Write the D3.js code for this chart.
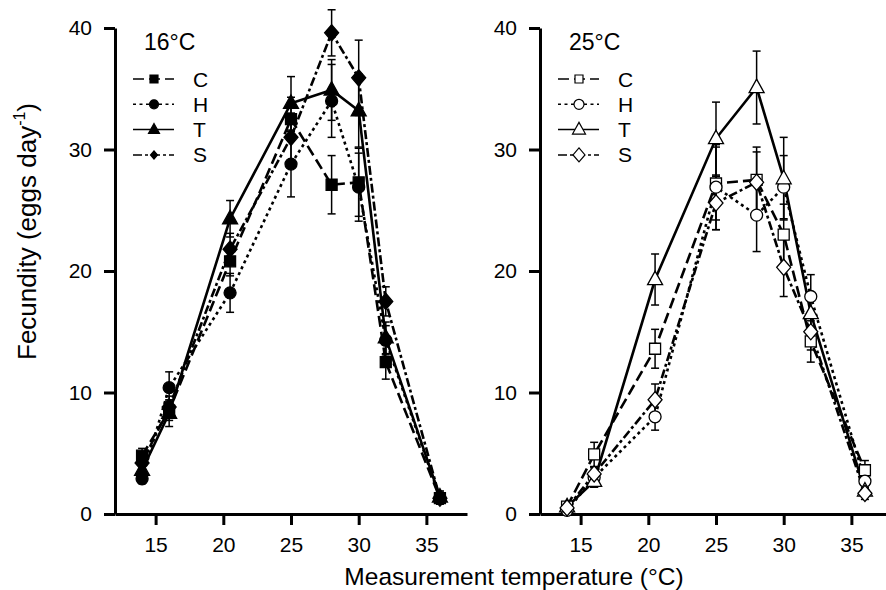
<!DOCTYPE html>
<html>
<head>
<meta charset="utf-8">
<script src="https://cdn.jsdelivr.net/npm/d3@7"></script>
<style>
  body { margin: 0; background: #fff; }
  svg { display: block; font-family: "Liberation Sans", Arial, Helvetica, sans-serif; }
  .axis path, .axis line { stroke: #000; stroke-width: 3; }
  .axis text { font-size: 21px; fill: #000; font-family: "Liberation Sans", Arial, sans-serif; }
</style>
</head>
<body>
<svg id="chart" width="886" height="590"></svg>
<script>
// measurement temperatures (x values)
const temps = [14, 16, 20.5, 25, 28, 30, 32, 36];
const xTicks = [15, 20, 25, 30, 35];
const yTicks = [0, 10, 20, 30, 40];
const seriesNames = ["C", "H", "T", "S"];

// 16°C panel: means and error bars
const c16 = [4.8, 8.5, 20.8, 32.5, 27.1, 27.3, 12.5, 1.3];
const c16Err = [0.6, 0.8, 1.2, 1.8, 2.4, 2.8, 1.4, 0.4];
const h16 = [2.9, 10.4, 18.2, 28.8, 34.0, 26.9, 14.3, 1.3];
const h16Err = [0.4, 1.3, 1.6, 2.7, 3.0, 2.8, 1.2, 0.4];
const t16 = [3.6, 8.3, 24.3, 33.8, 34.9, 33.2, 14.5, 1.4];
const t16Err = [0.7, 1.1, 1.5, 2.2, 2.5, 3.0, 1.3, 0.5];
const s16 = [4.2, 8.8, 21.8, 31.0, 39.6, 35.9, 17.5, 1.3];
const s16Err = [0.6, 0.9, 1.3, 2.0, 1.9, 3.1, 1.2, 0.5];

// 25°C panel
const c25 = [0.6, 4.9, 13.6, 27.2, 27.5, 23.0, 14.2, 3.6];
const c25Err = [0.3, 1.0, 1.6, 3.0, 2.7, 2.5, 1.7, 0.8];
const h25 = [0.3, 3.0, 8.0, 26.9, 24.6, 26.9, 17.9, 2.7];
const h25Err = [0.3, 0.8, 1.1, 3.5, 3.0, 2.6, 1.8, 0.6];
const t25 = [0.6, 2.7, 19.3, 30.9, 35.1, 27.6, 16.5, 1.9];
const t25Err = [0.3, 0.5, 2.1, 3.0, 3.0, 3.4, 1.5, 0.5];
const s25 = [0.5, 3.3, 9.4, 25.6, 27.3, 20.3, 15.0, 1.7];
const s25Err = [0.3, 0.6, 1.3, 2.2, 2.5, 2.4, 1.5, 0.5];

const svg = d3.select("#chart");

// line style + marker per series
const styles = {
  C: { dash: "11,5", shape: "square" },
  H: { dash: "3,3.5", shape: "circle" },
  T: { dash: null, shape: "triangle" },
  S: { dash: "9,3,3,3", shape: "diamond" }
};

const panels = [
  { title: "16°C", x0: 115, filled: true,
    values: [c16, h16, t16, s16], errors: [c16Err, h16Err, t16Err, s16Err] },
  { title: "25°C", x0: 540, filled: false,
    values: [c25, h25, t25, s25], errors: [c25Err, h25Err, t25Err, s25Err] }
];

const yTop = 28, yBottom = 514, panelWidth = 352;

function markerPath(shape, s) {
  const p = d3.path();
  if (shape === "square") {
    p.rect(-s / 2, -s / 2, s, s);
  } else if (shape === "circle") {
    p.arc(0, 0, s / 2, 0, 2 * Math.PI);
    p.closePath();
  } else if (shape === "triangle") {
    const h = s * 0.9;
    p.moveTo(0, -h * 0.62);
    p.lineTo(s / 2, h * 0.38);
    p.lineTo(-s / 2, h * 0.38);
    p.closePath();
  } else {
    p.moveTo(0, -s * 0.58);
    p.lineTo(s * 0.5, 0);
    p.lineTo(0, s * 0.58);
    p.lineTo(-s * 0.5, 0);
    p.closePath();
  }
  return p.toString();
}

const markerSize = { square: 11, circle: 12, triangle: 15, diamond: 14 };

panels.forEach(panel => {
  const x = d3.scaleLinear().domain([12, 38]).range([panel.x0, panel.x0 + panelWidth]);
  const y = d3.scaleLinear().domain([0, 40]).range([yBottom, yTop]);

  const g = svg.append("g");

  g.append("g")
    .attr("class", "axis")
    .attr("transform", `translate(${panel.x0},0)`)
    .call(d3.axisLeft(y).tickValues(yTicks).tickSize(11).tickSizeOuter(0).tickPadding(12));

  g.append("g")
    .attr("class", "axis")
    .attr("transform", `translate(0,${yBottom})`)
    .call(d3.axisBottom(x).tickValues(xTicks).tickSize(11).tickSizeOuter(0).tickPadding(12));

  const line = d3.line().x(d => x(d.t)).y(d => y(d.v));

  seriesNames.forEach((name, i) => {
    const pts = temps.map((t, j) => ({ t: t, v: panel.values[i][j], e: panel.errors[i][j] }));
    const st = styles[name];

    g.append("path")
      .datum(pts)
      .attr("d", line)
      .attr("fill", "none")
      .attr("stroke", "#000")
      .attr("stroke-width", 2.6)
      .attr("stroke-dasharray", st.dash);

    // error bars
    const eb = g.append("g").attr("stroke", "#000").attr("stroke-width", 1.5);
    pts.forEach(d => {
      eb.append("line").attr("x1", x(d.t)).attr("x2", x(d.t))
        .attr("y1", y(d.v - d.e)).attr("y2", y(d.v + d.e));
      [d.v - d.e, d.v + d.e].forEach(v => {
        eb.append("line").attr("x1", x(d.t) - 4).attr("x2", x(d.t) + 4)
          .attr("y1", y(v)).attr("y2", y(v));
      });
    });
  });

  // markers on top
  seriesNames.forEach((name, i) => {
    const st = styles[name];
    g.selectAll(null)
      .data(temps.map((t, j) => ({ t: t, v: panel.values[i][j] })))
      .enter().append("path")
      .attr("transform", d => `translate(${x(d.t)},${y(d.v)})`)
      .attr("d", markerPath(st.shape, markerSize[st.shape]))
      .attr("fill", panel.filled ? "#000" : "#fff")
      .attr("stroke", "#000")
      .attr("stroke-width", 1.3);
  });

  // legend
  g.append("text")
    .attr("x", panel.x0 + 29)
    .attr("y", 50)
    .attr("font-size", 23)
    .text(panel.title);

  const legendSize = panel.filled
    ? { square: 8, circle: 9, triangle: 11, diamond: 7 }
    : { square: 8, circle: 10, triangle: 13, diamond: 12 };

  seriesNames.forEach((name, i) => {
    const st = styles[name];
    const ly = 79 + i * 25.3;
    g.append("line")
      .attr("x1", panel.x0 + 18).attr("x2", panel.x0 + 59)
      .attr("y1", ly).attr("y2", ly)
      .attr("stroke", "#000")
      .attr("stroke-width", 1.5)
      .attr("stroke-dasharray", st.dash);
    g.append("path")
      .attr("transform", `translate(${panel.x0 + 39},${ly})`)
      .attr("d", markerPath(st.shape, legendSize[st.shape]))
      .attr("fill", panel.filled ? "#000" : "#fff")
      .attr("stroke", "#000")
      .attr("stroke-width", 1.2);
    g.append("text")
      .attr("x", panel.x0 + 78)
      .attr("y", ly + 7.5)
      .attr("font-size", 21)
      .text(name);
  });
});

// axis titles
svg.append("text")
  .attr("x", 514)
  .attr("y", 585)
  .attr("text-anchor", "middle")
  .attr("font-size", 24.5)
  .text("Measurement temperature (°C)");

const yLabel = svg.append("text")
  .attr("transform", "translate(36,360) rotate(-90)")
  .attr("font-size", 26);
yLabel.append("tspan").text("Fecundity (eggs day");
yLabel.append("tspan").attr("font-size", 16).attr("dy", -11).text("-1");
yLabel.append("tspan").attr("dy", 11).text(")");
</script>
</body>
</html>
